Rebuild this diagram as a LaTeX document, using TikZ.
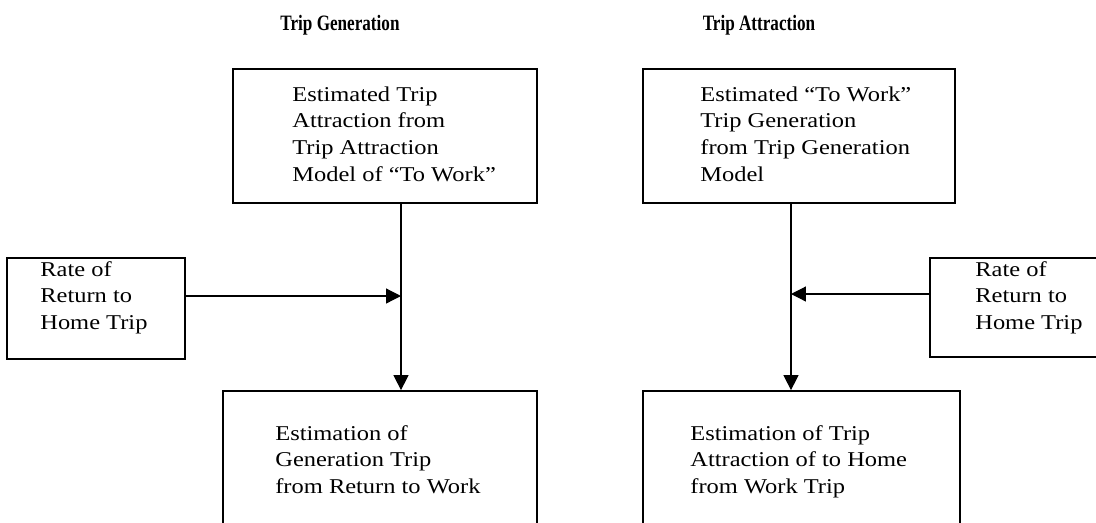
\documentclass[tikz,border=0pt]{standalone}
\usepackage{fontspec}
\usepackage{graphicx}
\setmainfont{Liberation Serif}
\usetikzlibrary{arrows.meta,fit}

% multi-line body text, first line on the node's baseline
\newcommand\boxtext[1]{\scalebox{1.16}[1]{\fontsize{12}{15.3}\selectfont
  \begin{tabular}[t]{@{}l@{}}#1\end{tabular}}}
\newcommand\headtext[1]{\scalebox{0.78}[1]{\fontsize{12.5}{14}\selectfont\bfseries #1}}

\begin{document}
\begin{tikzpicture}[x=0.02cm,y=-0.02cm,
  box/.style={draw, line width=1pt, inner sep=0pt},
  label/.style={anchor=base west, inner sep=0pt},
  head/.style={anchor=base, inner sep=0pt},
  conn/.style={line width=0.7pt, -{Triangle[length=8.5pt,width=8.5pt]}}]
\useasboundingbox (0,0) rectangle (1096,522);
\clip (0,0) rectangle (1096,522);

% column headings
\node[head] (hgen) at (340,30) {\headtext{Trip Generation}};
\node[head] (hatt) at (759,30) {\headtext{Trip Attraction}};

% left column: trip generation
\node[box, fit={(233,69) (537,203)}] (tl) {};
\node[label] (tltext) at (292,101) {\boxtext{Estimated Trip\\Attraction from\\Trip Attraction\\Model of ``To Work''}};

\node[box, fit={(7,258) (185,359)}] (rl) {};
\node[label] (rltext) at (40,276) {\boxtext{Rate of\\Return to\\Home Trip}};

\node[box, fit={(223,391) (537,540)}] (bl) {};
\node[label] (bltext) at (275,440) {\boxtext{Estimation of\\Generation Trip\\from Return to Work}};

\coordinate (jl) at (401,296);
\draw[conn] (jl |- tl.south) -- (jl |- bl.north);
\draw[conn] (rl.east |- jl) -- (jl);

% right column: trip attraction
\node[box, fit={(643,69) (955,203)}] (tr) {};
\node[label] (trtext) at (700,101) {\boxtext{Estimated ``To Work''\\Trip Generation\\from Trip Generation\\Model}};

\node[box, fit={(930,258) (1110,357)}] (rr) {};
\node[label] (rrtext) at (975,276) {\boxtext{Rate of\\Return to\\Home Trip}};

\node[box, fit={(643,391) (960,540)}] (br) {};
\node[label] (brtext) at (690,440) {\boxtext{Estimation of Trip\\Attraction of to Home\\from Work Trip}};

\coordinate (jr) at (791,294);
\draw[conn] (jr |- tr.south) -- (jr |- br.north);
\draw[conn] (rr.west |- jr) -- (jr);
\end{tikzpicture}
\end{document}
